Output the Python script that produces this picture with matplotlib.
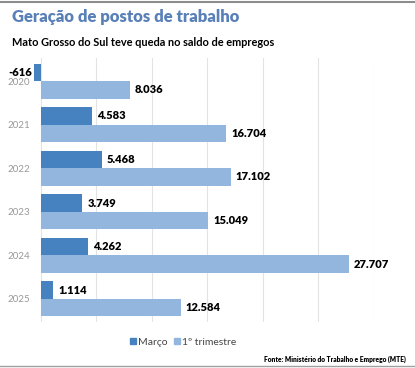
import matplotlib.pyplot as plt
import numpy as np
from matplotlib.lines import Line2D

anos = ['2020', '2021', '2022', '2023', '2024', '2025']
marco = [-616, 4583, 5468, 3749, 4262, 1114]
trimestre = [8036, 16704, 17102, 15049, 27707, 12584]

cor_marco = '#4682bf'
cor_tri = '#93b6df'
fonte = ['Lato', 'DejaVu Sans']


def fmt(v):
    return f'{v:,}'.replace(',', '.')


fig = plt.figure(figsize=(4.15, 3.68), dpi=100)
ax = fig.add_axes([34 / 415, 1 - 322 / 368, 340 / 415, 264 / 368])

y = np.arange(len(anos))
h = 0.4
ax.barh(y - h / 2, marco, height=h, color=cor_marco, zorder=3)
ax.barh(y + h / 2, trimestre, height=h, color=cor_tri, zorder=3)

for i in range(len(anos)):
    v = marco[i]
    if v < 0:
        ax.text(v - 150, y[i] - h / 2, fmt(v), ha='right', va='center',
                fontsize=8, fontweight='heavy', family=fonte)
    else:
        ax.text(v + 450, y[i] - h / 2, fmt(v), ha='left', va='center',
                fontsize=8, fontweight='heavy', family=fonte)
    ax.text(trimestre[i] + 450, y[i] + h / 2, fmt(trimestre[i]), ha='left',
            va='center', fontsize=8, fontweight='heavy', family=fonte)

ax.set_xlim(-616, 30000)
ax.set_ylim(len(anos) - 0.47, -0.53)
ax.set_xticks(range(0, 30001, 5000))
ax.set_xticklabels([])
ax.set_yticks(y)
ax.set_yticklabels(anos, fontsize=7, color='#999999', family=fonte)
ax.tick_params(axis='y', length=0, pad=3)
ax.tick_params(axis='x', length=0)
ax.grid(axis='x', color='#e3e3e3', linewidth=0.8, zorder=0)
for s in ax.spines.values():
    s.set_visible(False)

fig.text(12 / 415, 1 - 17 / 368, 'Geração de postos de trabalho', fontsize=12,
         fontweight='heavy', color='#5a80b8', va='center', family=fonte)
fig.text(12 / 415, 1 - 43 / 368, 'Mato Grosso do Sul teve queda no saldo de empregos',
         fontsize=7.9, fontweight='bold', color='black', va='center', family=fonte)

handles = [Line2D([], [], marker='s', linestyle='none', color=cor_marco, markersize=4.5),
           Line2D([], [], marker='s', linestyle='none', color=cor_tri, markersize=4.5)]
fig.legend(handles, ['Março', '1º trimestre'], loc='center', bbox_to_anchor=(183 / 415, 1 - 342 / 368),
           ncol=2, frameon=False, handletextpad=0.1, columnspacing=0.6,
           labelcolor='#444444', handlelength=0.7, prop={'family': fonte, 'size': 7.5})

fig.text(406 / 415, 1 - 359 / 368, 'Fonte: Ministério do Trabalho e Emprego (MTE)',
         fontsize=4.8, fontweight='heavy', ha='right', va='center', family=fonte)

fig.add_artist(Line2D([0, 1], [1 - 1.5 / 368, 1 - 1.5 / 368], color='#8c8c8c', linewidth=1.5))
fig.add_artist(Line2D([0, 1], [1 - 366 / 368, 1 - 366 / 368], color='#a0a0a0', linewidth=1.0))

fig.savefig('out.png', dpi=100)
